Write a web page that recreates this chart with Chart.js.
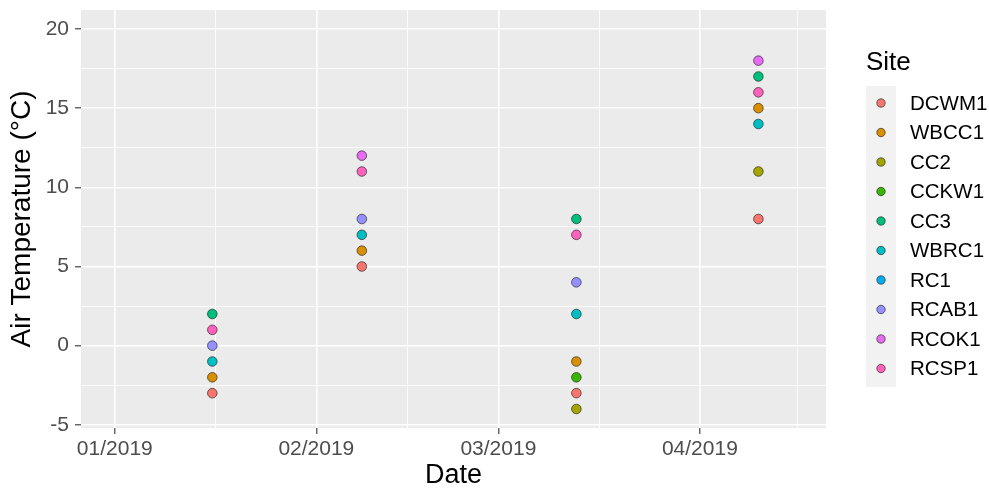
<!DOCTYPE html>
<html>
<head>
<meta charset="utf-8">
<script src="https://cdn.jsdelivr.net/npm/chart.js@4"></script>
<style>
  body { margin: 0; background: #fff; }
  canvas { display: block; }
</style>
</head>
<body>
<canvas id="tempChart" width="989" height="489"></canvas>
<script>
// sampling dates and the sites (legend order)
const dates = ['2019-01-16', '2019-02-08', '2019-03-13', '2019-04-10'];
const sites = ['DCWM1', 'WBCC1', 'CC2', 'CCKW1', 'CC3', 'WBRC1', 'RC1', 'RCAB1', 'RCOK1', 'RCSP1'];

// air temperature per site, one value per date (null = no reading)
const DCWM1 = [-3, 5, -3, 8];
const WBCC1 = [-2, 6, -1, 15];
const CC2 = [null, null, -4, 11];
const CCKW1 = [null, null, -2, null];
const CC3 = [2, null, 8, 17];
const WBRC1 = [-1, 7, 2, 14];
const RC1 = [null, null, null, null];
const RCAB1 = [0, 8, 4, null];
const RCOK1 = [null, 12, null, 18];
const RCSP1 = [1, 11, 7, 16];

const siteValues = [DCWM1, WBCC1, CC2, CCKW1, CC3, WBRC1, RC1, RCAB1, RCOK1, RCSP1];

// axis breaks
const xTickDates = ['2019-01-01', '2019-02-01', '2019-03-01', '2019-04-01', '2019-05-01'];
const xTickLabels = ['01/2019', '02/2019', '03/2019', '04/2019', '05/2019'];
const yTicks = [-5, 0, 5, 10, 15, 20];

const palette = ['#F8766D', '#D89000', '#A3A500', '#39B600', '#00BF7D',
                 '#00BFC4', '#00B0F6', '#9590FF', '#E76BF3', '#FF62BC'];

const FONT = "'Liberation Sans', Arial, sans-serif";

// days since 2019-01-01
const toDay = (s) => (Date.parse(s) - Date.parse('2019-01-01')) / 864e5;

const xMajors = xTickDates.map(toDay);
const xMinors = [];
for (let i = 0; i < xMajors.length - 1; i++) xMinors.push((xMajors[i] + xMajors[i + 1]) / 2);
const yMinors = [];
for (let i = 0; i < yTicks.length - 1; i++) yMinors.push((yTicks[i] + yTicks[i + 1]) / 2);

const datasets = sites.map((name, i) => ({
  label: name,
  data: dates.map((d, j) => ({ x: toDay(d), y: siteValues[i][j] })).filter(p => p.y !== null),
  backgroundColor: palette[i],
  borderColor: 'rgba(40,40,40,0.85)',
  borderWidth: 0.8,
  pointRadius: 4.8,
  showLine: false,
}));

const buildTicks = (majors, minors) => (scale) => {
  const ticks = [];
  majors.forEach(v => { if (v >= scale.min && v <= scale.max) ticks.push({ value: v, major: true }); });
  minors.forEach(v => { if (v >= scale.min && v <= scale.max) ticks.push({ value: v, major: false }); });
  ticks.sort((a, b) => a.value - b.value);
  scale.ticks = ticks;
};

// no extra room for overhanging tick labels, the panel size is fixed
const noPad = (scale) => {
  scale.paddingTop = 0;
  scale.paddingBottom = 0;
  scale.paddingLeft = 0;
  scale.paddingRight = 0;
};

const gridOpts = {
  color: '#FFFFFF',
  lineWidth: (ctx) => (ctx.tick && ctx.tick.major ? 1.6 : 0.8),
  tickColor: (ctx) => (ctx.tick && ctx.tick.major ? '#333333' : 'rgba(0,0,0,0)'),
  tickLength: 6,
  tickWidth: 1.1,
};

// grey panel behind the grid
const panelBg = {
  id: 'panelBg',
  beforeDraw(chart) {
    const { ctx, chartArea: a } = chart;
    ctx.save();
    ctx.fillStyle = '#FFFFFF';
    ctx.fillRect(0, 0, chart.width, chart.height);
    ctx.fillStyle = '#EBEBEB';
    ctx.fillRect(a.left, a.top, a.right - a.left, a.bottom - a.top);
    ctx.restore();
  }
};

// ggplot style legend on the right
const siteLegend = {
  id: 'siteLegend',
  afterDraw(chart) {
    const ctx = chart.ctx;
    const x0 = 866, top = 86, step = 29.5;
    ctx.save();
    ctx.fillStyle = '#000';
    ctx.font = '26px ' + FONT;
    ctx.textBaseline = 'middle';
    ctx.textAlign = 'left';
    ctx.fillText('Site', x0, 63);
    ctx.fillStyle = '#F2F2F2';
    ctx.fillRect(x0, top, 30, step * sites.length + 6);
    ctx.font = '20.5px ' + FONT;
    chart.data.datasets.forEach((ds, i) => {
      const cy = top + 17 + i * step;
      ctx.beginPath();
      ctx.arc(x0 + 15, cy, 4.2, 0, Math.PI * 2);
      ctx.fillStyle = ds.backgroundColor;
      ctx.fill();
      ctx.lineWidth = 0.8;
      ctx.strokeStyle = ds.borderColor;
      ctx.stroke();
      ctx.fillStyle = '#000';
      ctx.fillText(ds.label, 910, cy + 1);
    });
    ctx.restore();
  }
};

new Chart(document.getElementById('tempChart'), {
  type: 'scatter',
  data: { datasets },
  options: {
    responsive: false,
    animation: false,
    events: [],
    layout: { padding: { top: 10, right: 163, left: 0, bottom: 0 } },
    plugins: {
      legend: { display: false },
      tooltip: { enabled: false },
    },
    scales: {
      x: {
        type: 'linear',
        min: -5.2,
        max: 109.4,
        afterFit: (scale) => { scale.height = 61; noPad(scale); },
        afterBuildTicks: buildTicks(xMajors, xMinors),
        grid: gridOpts,
        border: { display: false },
        ticks: {
          autoSkip: false,
          maxRotation: 0,
          padding: 3,
          color: '#4D4D4D',
          font: { family: FONT, size: 21 },
          callback: (v) => {
            const k = xMajors.indexOf(v);
            return k >= 0 ? xTickLabels[k] : '';
          },
        },
        title: {
          display: true,
          text: 'Date',
          color: '#000',
          font: { family: FONT, size: 27, lineHeight: 1 },
          padding: { top: 0, bottom: 0 },
        },
      },
      y: {
        min: -5.2,
        max: 21.2,
        afterFit: (scale) => { scale.width = 81; noPad(scale); },
        afterBuildTicks: buildTicks(yTicks, yMinors),
        grid: gridOpts,
        border: { display: false },
        ticks: {
          autoSkip: false,
          padding: 6,
          color: '#4D4D4D',
          font: { family: FONT, size: 21 },
          callback: (v) => (yTicks.includes(v) ? String(v) : ''),
        },
        title: {
          display: true,
          text: 'Air Temperature (°C)',
          color: '#000',
          font: { family: FONT, size: 28, lineHeight: 1 },
          padding: { top: 8, bottom: 0 },
        },
      },
    },
  },
  plugins: [panelBg, siteLegend],
});
</script>
</body>
</html>
